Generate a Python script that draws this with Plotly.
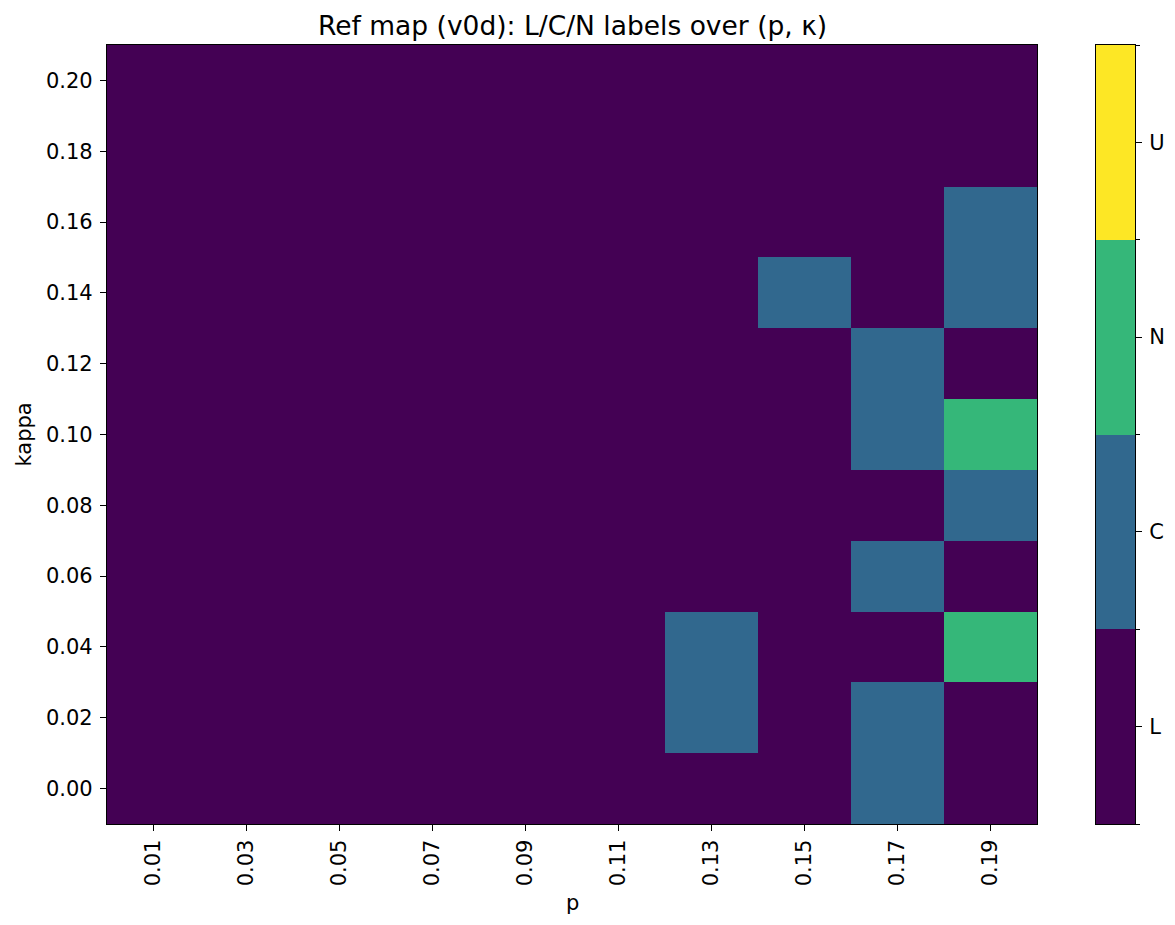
import plotly.graph_objects as go

# Grid axes
p_values = [0.01, 0.03, 0.05, 0.07, 0.09, 0.11, 0.13, 0.15, 0.17, 0.19]
kappa_values = [0.00, 0.02, 0.04, 0.06, 0.08, 0.10, 0.12, 0.14, 0.16, 0.18, 0.20]
p_tick_labels = ["0.01", "0.03", "0.05", "0.07", "0.09", "0.11", "0.13", "0.15", "0.17", "0.19"]
kappa_ticks = [0.00, 0.02, 0.04, 0.06, 0.08, 0.10, 0.12, 0.14, 0.16, 0.18, 0.20]

# Regime labels, one string per kappa row (bottom to top), one letter per p column
label_rows = [
    "LLLLLLLLCL",  # kappa 0.00
    "LLLLLLCLCL",  # kappa 0.02
    "LLLLLLCLLN",  # kappa 0.04
    "LLLLLLLLCL",  # kappa 0.06
    "LLLLLLLLLC",  # kappa 0.08
    "LLLLLLLLCN",  # kappa 0.10
    "LLLLLLLLCL",  # kappa 0.12
    "LLLLLLLCLC",  # kappa 0.14
    "LLLLLLLLLC",  # kappa 0.16
    "LLLLLLLLLL",  # kappa 0.18
    "LLLLLLLLLL",  # kappa 0.20
]
categories = ["L", "C", "N", "U"]
category_colors = ["#440154", "#31688e", "#35b779", "#fde725"]

z = [[categories.index(ch) for ch in row] for row in label_rows]

# Stepped colour scale over [-0.5, 3.5]
n = len(categories)
colorscale = []
for i, c in enumerate(category_colors):
    colorscale.append([i / n, c])
    colorscale.append([(i + 1) / n, c])

FONT = "DejaVu Sans"
TICK_SIZE = 21
TITLE_SIZE = 26.5

W, H = 1175, 925
left, right, top, bottom = 107, 1135, 45, 824
plot_w = right - left
main_end = (1037 - left) / plot_w
cbar_start = (1096 - left) / plot_w

fig = go.Figure()

fig.add_trace(go.Heatmap(
    z=z, x=p_values, y=kappa_values,
    colorscale=colorscale, zmin=-0.5, zmax=n - 0.5,
    showscale=False, xaxis="x", yaxis="y",
    hovertemplate="p=%{x}<br>kappa=%{y}<extra></extra>",
))

# Discrete colour bar drawn as its own one-column heatmap
fig.add_trace(go.Heatmap(
    z=[[i] for i in range(n)], x=[0], y=list(range(n)),
    colorscale=colorscale, zmin=-0.5, zmax=n - 0.5,
    showscale=False, xaxis="x2", yaxis="y2", hoverinfo="skip",
))

axis_common = dict(
    showline=True, linecolor="black", linewidth=1.3, mirror=True,
    ticks="outside", ticklen=6, tickwidth=1.3, tickcolor="black",
    showgrid=False, zeroline=False, automargin=False,
    tickfont=dict(family=FONT, size=TICK_SIZE, color="black"),
)

fig.update_layout(
    width=W, height=H,
    margin=dict(l=left, r=W - right, t=top, b=H - bottom),
    paper_bgcolor="white", plot_bgcolor="white",
    font=dict(family=FONT, color="black"),
    xaxis=dict(domain=[0, main_end], range=[0.0, 0.20],
               tickvals=p_values, ticktext=p_tick_labels, tickangle=-90,
               **axis_common),
    yaxis=dict(range=[-0.01, 0.21], tickvals=kappa_ticks, tickformat=".2f",
               ticklabelstandoff=3, **axis_common),
    xaxis2=dict(domain=[cbar_start, 1], range=[-0.5, 0.5], anchor="y2",
                showline=True, linecolor="black", linewidth=1.3, mirror=True,
                showticklabels=False, ticks="", showgrid=False, zeroline=False,
                automargin=False),
    yaxis2=dict(domain=[0, 1], range=[-0.5, n - 0.5], anchor="x2", side="right",
                tickvals=list(range(n)), ticktext=categories, ticklabelstandoff=3,
                minor=dict(tickmode="linear", tick0=-0.5, dtick=1, ticks="outside",
                           ticklen=4, tickwidth=1, tickcolor="black", showgrid=False),
                **axis_common),
    showlegend=False,
)

fig.add_annotation(
    text="Ref map (v0d): L/C/N labels over (p, κ)",
    xref="x domain", yref="paper", x=0.5, y=1, yshift=2,
    xanchor="center", yanchor="bottom", showarrow=False,
    font=dict(family=FONT, size=TITLE_SIZE, color="black"),
)
fig.add_annotation(
    text="p", xref="x domain", yref="paper", x=0.5, y=0, yshift=-79,
    xanchor="center", yanchor="middle", showarrow=False,
    font=dict(family=FONT, size=TICK_SIZE, color="black"),
)
fig.add_annotation(
    text="kappa", xref="paper", yref="y domain", x=0, xshift=-84, y=0.5,
    xanchor="center", yanchor="middle", textangle=-90, showarrow=False,
    font=dict(family=FONT, size=TICK_SIZE, color="black"),
)

fig.write_html("out.html")
